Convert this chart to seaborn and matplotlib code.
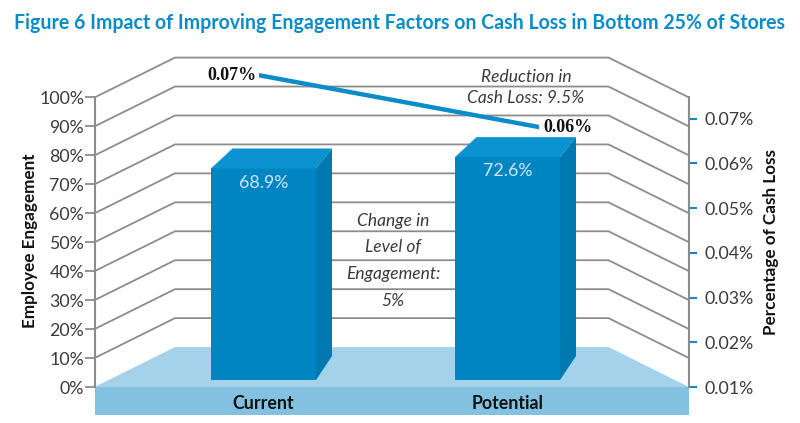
import pandas as pd
import numpy as np
import matplotlib
matplotlib.use('Agg')
import matplotlib.pyplot as plt
from matplotlib.patches import Polygon
import seaborn as sns

# Datos de la figura
categorias = ['Current', 'Potential']
engagement = [68.9, 72.6]
cash_loss = [0.0708, 0.0592]
cash_loss_labels = ['0.07%', '0.06%']
ticks_engagement = [0, 10, 20, 30, 40, 50, 60, 70, 80, 90, 100]
ticks_cash = [0.01, 0.02, 0.03, 0.04, 0.05, 0.06, 0.07]

df = pd.DataFrame({'grupo': categorias, 'engagement': engagement, 'cash_loss': cash_loss})

W, H = 800, 423
AZUL = '#0a8cc8'
GRIS = '#8c8c8c'
TEXTO = '#3a3a3a'

sns.set_theme(style='white')
plt.rcParams['font.family'] = ['Lato', 'DejaVu Sans']


def caja(x0, x1, y_top, y_bot):
    # posicion de ejes a partir de pixeles de la imagen
    return [x0 / W, 1 - y_bot / H, (x1 - x0) / W, (y_bot - y_top) / H]


fig = plt.figure(figsize=(8, 4.23), dpi=100)

# Eje principal: pared, piso y escala izquierda
ax = fig.add_axes(caja(94.5, 689, 97.5, 387))
ax.set_xlim(0, 594.5)
ax.set_ylim(0, 100)
ax.set_facecolor('none')
ax.set_xticks([])
ax.set_yticks(ticks_engagement)
ax.set_yticklabels([f'{t}%' for t in ticks_engagement], fontsize=12.8, color=TEXTO)
ax.tick_params(axis='y', length=7, width=1.3, color=GRIS, pad=0.5, left=True)

prof_x = 80.5
prof_y = 40 / 2.9
for t in ticks_engagement[1:]:
    ax.plot([0, prof_x, 594.5 - prof_x, 594.5], [t, t + prof_y, t + prof_y, t],
            color=GRIS, lw=1.3, clip_on=False, zorder=1)

ax.add_patch(Polygon([(0, 0), (prof_x, prof_y), (594.5 - prof_x, prof_y), (594.5, 0)],
                     fc='#a3d2ea', ec='none', zorder=2))
ax.add_patch(Polygon([(0, 0), (594.5, 0), (594.5, -9.6), (0, -9.6)],
                     fc='#83c1e0', ec='none', clip_on=False, zorder=2))

for lado in ['top', 'bottom', 'right']:
    ax.spines[lado].set_visible(False)
ax.spines['left'].set_color(GRIS)
ax.spines['left'].set_linewidth(1.5)
ax.set_ylabel('Employee Engagement', fontsize=12.3, fontweight='bold', color='#111111')
ax.yaxis.set_label_coords((38 - 94.5) / 594.5, (387 - 241) / 289.5)

# Escala derecha
ax2 = ax.twinx()
ax2.set_ylim(0.01, 0.01 + 289.5 / 4470)
ax2.set_yticks(ticks_cash)
ax2.set_yticklabels([f'{t:.2f}%' for t in ticks_cash], fontsize=12.8, color=TEXTO)
ax2.tick_params(axis='y', length=6, width=1.5, color=AZUL, pad=5.5, right=True)
for lado in ['top', 'bottom', 'left']:
    ax2.spines[lado].set_visible(False)
ax2.spines['right'].set_color(GRIS)
ax2.spines['right'].set_linewidth(1.5)
ax2.set_ylabel('Percentage of Cash Loss', fontsize=12.3, fontweight='bold', color='#111111')
ax2.yaxis.set_label_coords((763 - 94.5) / 594.5, (387 - 242) / 289.5)

# Barras, con su propia escala
ax_bar = fig.add_axes(caja(94.5, 689, 73, 380))
ax_bar.set_facecolor('none')
sns.barplot(data=df, x='grupo', y='engagement', color='#0085c3', saturation=1,
            width=105 / 244, linewidth=0, ax=ax_bar, zorder=3)
ax_bar.set_xlim((94.5 - 263.5) / 244, (689 - 263.5) / 244)
ax_bar.set_ylim(0, 100)
ax_bar.set_xlabel('')
ax_bar.set_ylabel('')
ax_bar.set_yticks([])
ax_bar.tick_params(axis='x', length=0, pad=11)
for lbl in ax_bar.get_xticklabels():
    lbl.set_fontsize(12.8)
    lbl.set_fontweight('bold')
    lbl.set_color('#111111')
sns.despine(ax=ax_bar, left=True, bottom=True)

# caras superior y lateral de cada barra
dx_izq, dx_der = 21.5 / 244, 16 / 244
dy_top, dy_base = 20 / 3.07, 24 / 3.07
for bar in ax_bar.patches:
    x0, x1 = bar.get_x(), bar.get_x() + bar.get_width()
    h = bar.get_height()
    ax_bar.add_patch(Polygon([(x0, h), (x1, h), (x1 + dx_der, h + dy_top), (x0 + dx_izq, h + dy_top)],
                             fc='#0a93d0', ec='none', zorder=3))
    ax_bar.add_patch(Polygon([(x1, 0), (x1 + dx_der, dy_base), (x1 + dx_der, h + dy_top), (x1, h)],
                             fc='#0079b0', ec='none', zorder=3))
ax_bar.bar_label(ax_bar.containers[0], fmt='%.1f%%', padding=-16, fontsize=12.8, color='#cfe8f5')

# Linea de perdida de efectivo, sobre la pared del fondo
ax_line = fig.add_axes(caja(259, 539, 57, 347))
ax_line.set_facecolor('none')
sns.lineplot(data=df, x='grupo', y='cash_loss', color=AZUL, lw=3.2, ax=ax_line, zorder=4)
ax_line.set_xlim(0, 1)
ax_line.set_ylim(0.01, 0.01 + 290 / 4470)
ax_line.axis('off')
for i, (val, txt) in enumerate(zip(cash_loss, cash_loss_labels)):
    ax_line.annotate(txt, (i, val), xytext=(-2 if i == 0 else 3, 0), textcoords='offset points',
                     ha='right' if i == 0 else 'left', va='center', fontsize=13,
                     fontweight='bold', family='Liberation Serif', color='#111111')

# Notas en cursiva
for y, txt in zip([76.5, 98], ['Reduction in', 'Cash Loss: 9.5%']):
    ax.text(526 - 94.5, (387 - y) / 2.895, txt, style='italic', fontsize=12.5, color=TEXTO,
            ha='center', va='center', zorder=6)
for y, txt in zip([221, 247, 274, 301], ['Change in', 'Level of', 'Engagement:', '5%']):
    ax.text(393 - 94.5, (387 - y) / 2.895, txt, style='italic', fontsize=12.5, color=TEXTO,
            ha='center', va='center', zorder=6)

fig.text(0.5, 1 - 23 / H, 'Figure 6 Impact of Improving Engagement Factors on Cash Loss in Bottom 25% of Stores',
         ha='center', va='center', fontsize=14.05, fontweight='bold', color=AZUL)

fig.savefig('out.png', dpi=100)
